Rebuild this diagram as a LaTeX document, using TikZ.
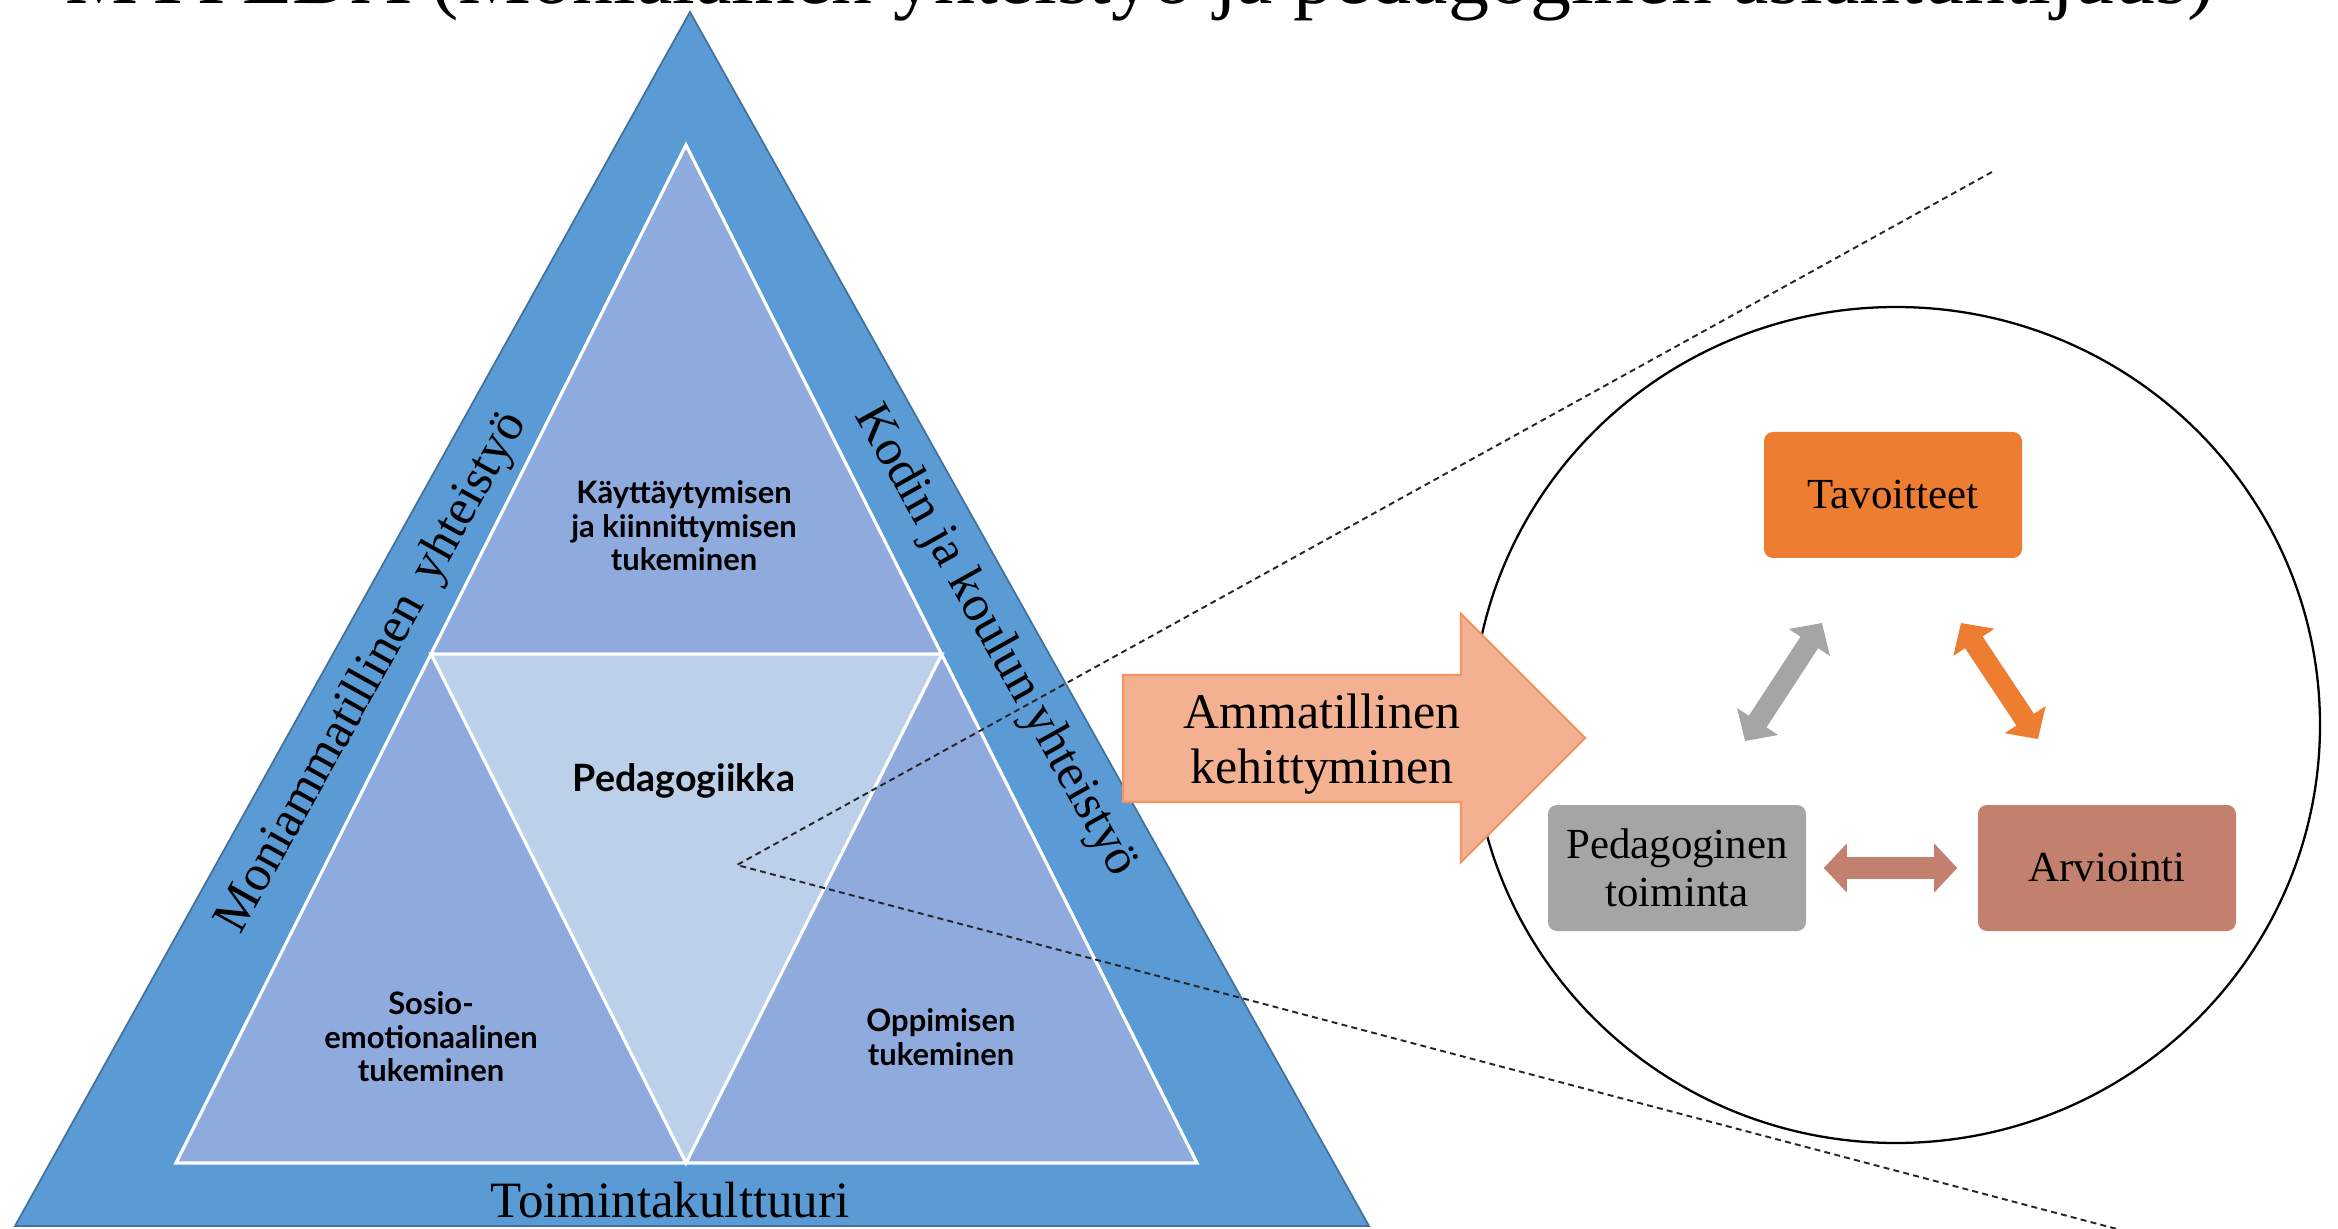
\documentclass[tikz,border=0pt]{standalone}
\usepackage{fontspec}
\setmainfont{Liberation Serif}
\newfontfamily\latofont{Lato}
\usetikzlibrary{arrows.meta,shapes.geometric,calc}
\definecolor{triblue}{RGB}{91,155,213}
\definecolor{triborder}{RGB}{65,113,156}
\definecolor{cornerc}{RGB}{143,170,220}
\definecolor{middlec}{RGB}{189,208,234}
\definecolor{arrowfill}{RGB}{244,177,146}
\definecolor{arrowline}{RGB}{240,150,100}
\definecolor{tavc}{RGB}{237,125,49}
\definecolor{pedc}{RGB}{165,165,165}
\definecolor{arvc}{RGB}{196,128,111}
\begin{document}
\begin{tikzpicture}[x=0.1mm,y=-0.1mm,
  sidelabel/.style={font=\fontsize{14.5}{16}\selectfont, inner sep=0pt},
  innerlabel/.style={font=\latofont\bfseries\fontsize{8.8}{9.5}\selectfont, align=center, inner sep=0pt},
  boxnode/.style={rounded corners=0.9mm, minimum width=25.8mm, minimum height=12.6mm, align=center,
    font=\fontsize{12.2}{13.7}\selectfont, inner sep=0pt},
  dbl/.style={line width=6pt, {Triangle[length=6.6pt,width=13.6pt]}-{Triangle[length=6.6pt,width=13.6pt]}},
  callout/.style={dash pattern=on 1.7pt off 1.2pt, line width=0.55pt, black!85}
]
\useasboundingbox (0,0) rectangle (2338,1229);

% title (cut off at the top edge)
\node[anchor=base, font=\fontsize{23.3}{28}\selectfont, inner sep=0pt] (title) at (1140,4)
  {MYPEDA (Monialainen yhteistyö ja pedagoginen asiantuntijuus)};

% outer triangle
\coordinate (OA) at (690,12);
\coordinate (OL) at (15,1226);
\coordinate (OR) at (1369,1226);
\filldraw[fill=triblue, draw=triborder, line width=0.5pt] (OA) -- (OL) -- (OR) -- cycle;

% inner triangles
\coordinate (IA) at (686,145);
\coordinate (IL) at (176,1163);
\coordinate (IR) at (1197,1163);
\coordinate (ML) at (431,654);
\coordinate (MR) at (942,654);
\coordinate (MB) at (686,1163);
\fill[cornerc] (IA) -- (IL) -- (IR) -- cycle;
\fill[middlec] (ML) -- (MR) -- (MB) -- cycle;
\draw[white, line width=0.9pt] (IA) -- (IL) -- (IR) -- cycle (ML) -- (MR) -- (MB) -- cycle;

% side labels
\node[sidelabel, rotate=60.9] (moni) at (373,673) {Moniammatillinen\ \,yhteistyö};
\node[sidelabel, rotate=-60.8] (kodin) at (995,641) {Kodin ja koulun yhteistyö};
\node[sidelabel] (toim) at (670,1200) {Toimintakulttuuri};

% inner labels
\node[innerlabel] (kay) at (684,526) {Käyttäytymisen\\ja kiinnittymisen\\tukeminen};
\node[innerlabel, font=\latofont\bfseries\fontsize{10.7}{12}\selectfont] (peda) at (684,781) {Pedagogiikka};
\node[innerlabel] (sos) at (431,1037) {Sosio-\\emotionaalinen\\tukeminen};
\node[innerlabel] (opp) at (941,1037) {Oppimisen\\tukeminen};

% callout lines
\coordinate (focus) at (737,865);
\coordinate (ctop) at (1992,172);
\coordinate (cbot) at (2117,1229);
\draw[callout] (ctop) -- (focus) -- (cbot);

% zoom ellipse
\node[draw, ellipse, line width=0.65pt, minimum width=84.8mm, minimum height=83.6mm, inner sep=0pt]
  (zoomcirc) at (1896,725) {};

% big arrow
\filldraw[fill=arrowfill, draw=arrowline, line width=0.6pt]
  (1123,675) -- (1461,675) -- (1461,614) -- (1585,738) -- (1461,862) -- (1461,802) -- (1123,802) -- cycle;
\node[font=\fontsize{14.2}{15.6}\selectfont, align=center, inner sep=0pt] (amm) at (1322,744)
  {Ammatillinen\\kehittyminen};

% boxes
\node[boxnode, fill=tavc] (tav) at (1893,495) {Tavoitteet};
\node[boxnode, fill=pedc] (pedt) at (1677,868) {Pedagoginen\\toiminta};
\node[boxnode, fill=arvc] (arv) at (2107,868) {Arviointi};

% double arrows
\coordinate (g1) at (1745,741);
\coordinate (g2) at (1822,623);
\coordinate (o1) at (1961,623);
\coordinate (o2) at (2038,739);
\draw[dbl, draw=pedc, fill=pedc] (g1) -- (g2);
\draw[dbl, draw=tavc, fill=tavc] (o1) -- (o2);
\draw[dbl, draw=arvc, fill=arvc, shorten <=1.7mm, shorten >=2.0mm] (pedt.east) -- (arv.west);
\end{tikzpicture}
\end{document}
